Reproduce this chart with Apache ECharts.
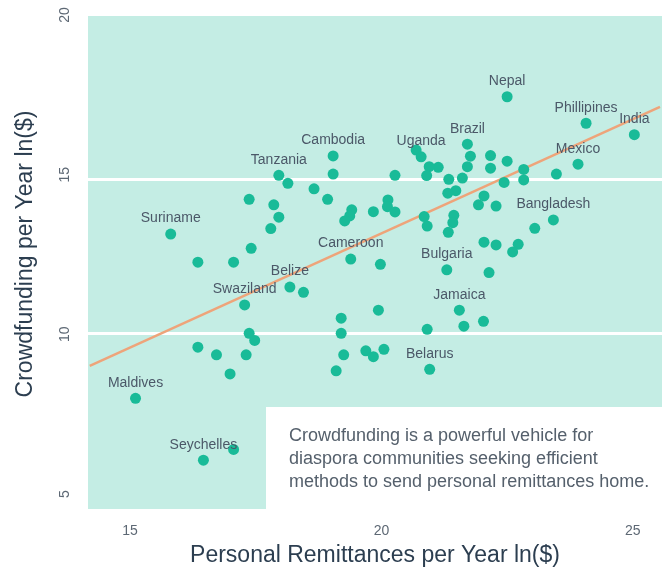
<!DOCTYPE html>
<html>
<head>
<meta charset="utf-8">
<script src="https://cdn.jsdelivr.net/npm/echarts@6/dist/echarts.min.js"></script>
<style>
  html, body { margin: 0; padding: 0; background: #fff; }
  #chart { width: 667px; height: 570px; }
</style>
</head>
<body>
<div id="chart"></div>
<script>
// countries, x = personal remittances ln($), y = crowdfunding ln($)
const countries = [
  'Cambodia', '', 'Tanzania', '', '', '', '', '', '', '',
  '', 'Suriname', '', '', 'Cameroon', '', 'Belize', '', 'Swaziland', '',
  '', '', '', '', '', 'Nepal', 'Phillipines', 'India', 'Mexico', '',
  '', '', '', '', '', '', 'Brazil', '', '', '',
  '', '', '', '', '', '', '', 'Uganda', '', '',
  '', '', '', 'Bangladesh', '', '', '', '', '', '',
  '', '', '', '', 'Bulgaria', '', '', '', '', '',
  '', '', '', '', '', '', '', '', '', '',
  '', 'Jamaica', '', '', 'Belarus', 'Maldives', 'Seychelles', ''
];
const remitX = [
  19.04, 19.04, 17.96, 18.14, 18.66, 18.93, 17.37, 17.86, 17.96, 17.80,
  17.41, 15.81, 16.35, 17.06, 19.39, 19.98, 18.18, 18.45, 17.28, 19.41,
  19.37, 19.27, 19.84, 20.13, 20.12, 22.50, 24.07, 25.03, 23.91, 23.48,
  22.83, 22.83, 22.44, 22.50, 22.17, 22.17, 21.71, 21.77, 21.71, 21.61,
  21.34, 21.48, 21.32, 21.13, 20.95, 20.90, 20.69, 20.79, 20.27, 20.27,
  22.04, 21.93, 22.28, 23.42, 23.05, 20.85, 20.91, 21.44, 21.42, 21.33,
  22.04, 22.28, 22.72, 22.61, 21.30, 22.14, 19.20, 19.20, 19.94, 17.37,
  17.48, 16.35, 16.72, 17.31, 16.99, 19.25, 19.10, 19.69, 19.84, 20.05,
  20.91, 21.55, 21.64, 22.03, 20.96, 15.11, 16.46, 17.06
];
const crowdY = [
  15.76, 15.17, 15.13, 14.87, 14.69, 14.35, 14.35, 14.17, 13.77, 13.40,
  12.76, 13.22, 12.31, 12.31, 12.41, 12.24, 11.50, 11.33, 10.92, 14.01,
  13.81, 13.65, 13.95, 14.33, 14.11, 17.68, 16.82, 16.45, 15.49, 15.17,
  15.32, 14.98, 14.90, 15.59, 15.77, 15.36, 16.14, 15.75, 15.41, 15.04,
  15.00, 14.63, 14.55, 15.39, 15.41, 15.12, 15.95, 15.73, 15.13, 13.94,
  14.46, 14.17, 14.13, 13.68, 13.41, 13.79, 13.48, 13.83, 13.59, 13.28,
  12.96, 12.87, 12.89, 12.64, 12.06, 11.97, 10.49, 10.00, 10.75, 10.00,
  9.77, 9.55, 9.30, 9.30, 8.68, 9.30, 8.78, 9.43, 9.24, 9.48,
  10.13, 10.75, 10.23, 10.39, 8.83, 7.89, 5.88, 6.23
];

// fitted trend line, two end points
const trendX = [14.2, 25.54];
const trendY = [8.94, 17.35];

const xTicks = [15, 20, 25];
const yTicks = [5, 10, 15, 20];
const gridValues = [10, 15];

const noteLines = [
  'Crowdfunding is a powerful vehicle for',
  'diaspora communities seeking efficient',
  'methods to send personal remittances home.'
];

const FONT = '"Liberation Sans", Arial, Helvetica, sans-serif';
const TICK_COLOR = '#5d6874';
const LABEL_COLOR = '#4b5868';
const TITLE_COLOR = '#2c3e50';

const chart = echarts.init(document.getElementById('chart'), null, { renderer: 'canvas' });

const points = remitX.map((x, i) => ({ name: countries[i], value: [x, crowdY[i]] }));

chart.setOption({
  animation: false,
  grid: [
    { left: 88, top: 16, right: 5, bottom: 61, show: true, backgroundColor: '#c4ede4', borderWidth: 0 },
    // only carries the rotated y tick labels
    { left: 88, top: 15, right: 5, bottom: 76, show: false }
  ],
  xAxis: [
    {
      type: 'value', gridIndex: 0, min: 14.165, max: 25.58,
      axisLine: { show: false }, axisTick: { show: false }, splitLine: { show: false },
      axisLabel: { customValues: xTicks, margin: 15, color: TICK_COLOR, fontSize: 14, fontFamily: FONT }
    },
    { type: 'value', gridIndex: 1, show: false, min: 0, max: 1 }
  ],
  yAxis: [
    {
      type: 'value', gridIndex: 0, min: 4.295, max: 20.302,
      axisLine: { show: false }, axisTick: { show: false }, splitLine: { show: false },
      axisLabel: { show: false }
    },
    {
      type: 'value', gridIndex: 1, min: 5, max: 20, interval: 5,
      axisLine: { show: false }, axisTick: { show: false }, splitLine: { show: false },
      axisLabel: { customValues: yTicks, rotate: 90, margin: 16, color: TICK_COLOR, fontSize: 14, fontFamily: FONT }
    }
  ],
  graphic: [
    { type: 'rect', z: 5, shape: { x: 266, y: 407, width: 401, height: 103 }, style: { fill: '#ffffff' } },
    {
      type: 'text', z: 6, x: 289, y: 425,
      style: { text: noteLines.join('\n'), fontSize: 18, fontFamily: FONT, fill: '#55606c', lineHeight: 23 }
    },
    {
      type: 'text', z: 6, x: 375, y: 556,
      style: {
        text: 'Personal Remittances per Year ln($)', fontSize: 23, fontFamily: FONT,
        fill: TITLE_COLOR, align: 'center', verticalAlign: 'middle'
      }
    },
    {
      type: 'text', z: 6, x: 26, y: 254, rotation: Math.PI / 2,
      style: {
        text: 'Crowdfunding per Year ln($)', fontSize: 23, fontFamily: FONT,
        fill: TITLE_COLOR, align: 'center', verticalAlign: 'middle'
      }
    }
  ],
  series: [
    {
      type: 'line', xAxisIndex: 0, yAxisIndex: 0, data: [], silent: true, z: 1,
      markLine: {
        z: 1, silent: true, symbol: 'none', label: { show: false },
        lineStyle: { color: '#ffffff', width: 3, type: 'solid' },
        data: gridValues.map((v) => ({ yAxis: v }))
      }
    },
    {
      type: 'line', xAxisIndex: 0, yAxisIndex: 0, silent: true, z: 2,
      data: trendX.map((x, i) => [x, trendY[i]]),
      showSymbol: false, symbol: 'none',
      lineStyle: { color: '#eea47a', width: 2.5 }
    },
    {
      type: 'scatter', xAxisIndex: 0, yAxisIndex: 0, z: 3,
      data: points,
      symbolSize: 11,
      itemStyle: { color: '#19bb98', opacity: 1 },
      label: {
        show: true, position: 'top', distance: 3,
        formatter: (p) => p.name,
        color: LABEL_COLOR, fontSize: 14, fontFamily: FONT
      },
      labelLayout: { hideOverlap: false }
    }
  ]
});
</script>
</body>
</html>
